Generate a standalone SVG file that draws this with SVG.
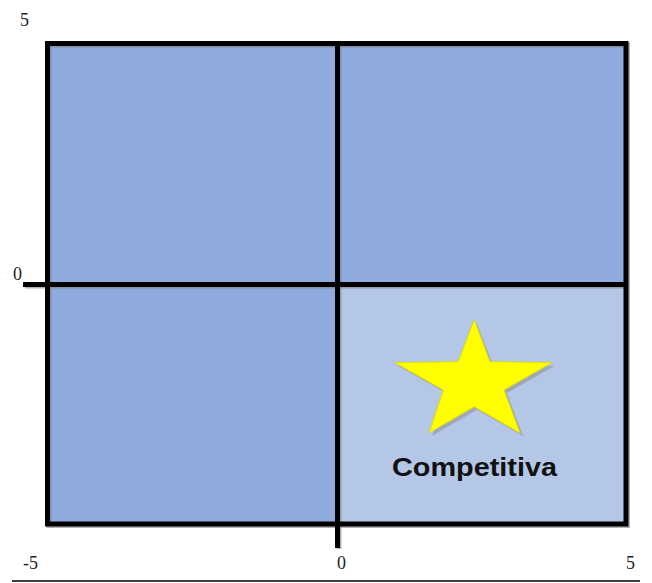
<svg xmlns="http://www.w3.org/2000/svg" width="652" height="583" viewBox="0 0 652 583">
<style>
.axis{font-family:"Liberation Serif","Times New Roman",serif;font-size:18px;fill:#222}
.q{fill:#8faadc}
.ql{fill:#b4c7e7}
.ln{stroke:#000;stroke-width:5;fill:none}
.sh{stroke:#7f7f7f;stroke-width:5;fill:none;opacity:0.6}
.lbl{font-family:"Liberation Sans",Arial,sans-serif;font-weight:bold;font-size:26px;fill:#111}
</style>
<rect width="652" height="583" fill="#fff"/>
<g id="quadrants">
<rect id="q-tl" class="q" x="47.5" y="43.5" width="290" height="241"/>
<rect id="q-tr" class="q" x="337.5" y="43.5" width="288.5" height="241"/>
<rect id="q-bl" class="q" x="47.5" y="284.5" width="290" height="239.5"/>
<rect id="q-br" class="ql" x="337.5" y="284.5" width="288.5" height="239.5"/>
</g>
<g id="connectors">
<rect class="sh" x="49" y="45" width="578.5" height="480.5"/>
<line class="sh" x1="339" y1="45" x2="339" y2="549"/>
<line class="sh" x1="25" y1="286" x2="627.5" y2="286"/>
<rect class="ln" x="47.5" y="43.5" width="578.5" height="480.5"/>
<line class="ln" x1="337.5" y1="43.5" x2="337.5" y2="548"/>
<line class="ln" x1="23" y1="284.5" x2="626" y2="284.5"/>
<line x1="12" y1="581" x2="640" y2="581" stroke="#404040" stroke-width="2"/>
</g>
<g id="star">
<polygon points="477,324 461,364.7 398,365.7 446.3,393 432.3,435.7 477,409.7 523,436 507,393 554.7,365.7 493,364.7" fill="#8a8a8a" opacity="0.5"/>
<polygon points="474.3,320 458.3,361.7 395,362.7 443.3,390 429.3,432.7 474.3,406.7 520,433 504,390 551.7,362.7 490,361.7" fill="#ffff00" stroke="#e0e000" stroke-width="1"/>
<text class="lbl" x="392" y="476" textLength="165" lengthAdjust="spacingAndGlyphs">Competitiva</text>
</g>
<g id="axis-labels">
<text class="axis" x="20" y="26">5</text>
<text class="axis" x="13" y="280">0</text>
<text class="axis" x="23" y="569">-5</text>
<text class="axis" x="337" y="569">0</text>
<text class="axis" x="626" y="569">5</text>
</g>
</svg>
